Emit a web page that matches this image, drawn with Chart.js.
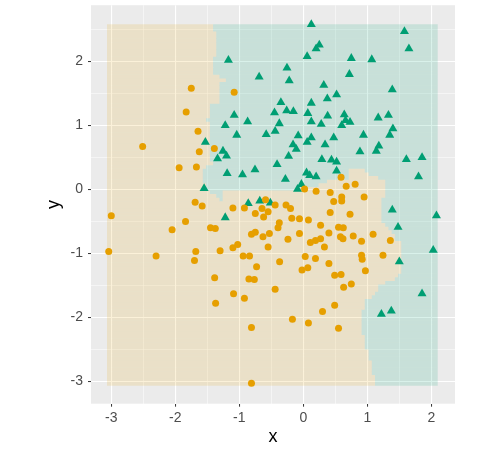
<!DOCTYPE html>
<html lang="en">
<head>
  <meta charset="UTF-8">
  <title>Decision regions</title>
  <script src="https://cdn.jsdelivr.net/npm/chart.js"></script>
  <style>
    body { margin: 0; background: #fff; }
    .chart-box { position: relative; width: 504px; height: 453px; }
  </style>
</head>
<body>
  <div class="chart-box"><canvas id="regionChart" width="504" height="453"></canvas></div>

  <script>
    // observed points, class A (orange circles)
    const orangeX = [
      -1.75, -1.83, -1.645, -1.08, -2.51, -1.625, -1.39, -1.94, -1.67, -1.69,
      -1.58, -3.0, -1.84, -2.05, -1.45, -3.04, -2.30, -1.68, -1.70, 0.02,
      0.20, 0.42, 0.475, -0.59, -0.44, -0.645, -0.55, -0.62, -1.10, -0.92,
      -0.75, -0.27, -0.20, -0.18, -0.06, 0.08, 0.27, 0.42, -1.375, -0.375,
      -0.395, -0.81, -0.75, -0.63, -0.53, -0.06, -0.24, 0.11, 0.19, 0.27,
      0.40, 0.33, -1.10, -1.025, -1.30, -0.55, -0.94, -0.84, -0.37, -0.73,
      0.03, 0.19, 0.40, 0.07, -0.02, 0.59, 0.67, 0.81, 0.95, 0.60,
      0.60, 0.73, 0.55, 0.625, 0.58, 0.62, 0.78, 1.09, 0.91, 1.36,
      0.91, 0.92, 1.245, 0.97, 0.49, 0.59, 0.63, 0.75, 0.49, 0.55,
      -1.385, -0.85, -0.765, -1.09, -0.92, -0.44, -1.37, 0.30, -0.17, 0.08,
      -0.81, -0.81
    ];
    const orangeY = [
      1.58, 1.21, 0.91, 1.52, 0.67, 0.59, 0.64, 0.34, 0.35, -0.20,
      -0.26, -0.41, -0.50, -0.63, -0.60, -0.97, -1.04, -0.97, -1.11, 0.005,
      -0.03, -0.05, -0.19, -0.16, -0.245, -0.30, -0.35, -0.43, -0.29, -0.29,
      -0.375, -0.245, -0.30, -0.45, -0.46, -0.48, -0.56, -0.36, -0.61, -0.52,
      -0.60, -0.70, -0.67, -0.74, -0.69, -0.69, -0.78, -0.83, -0.80, -0.77,
      -0.68, -0.90, -0.91, -0.86, -0.96, -0.90, -1.04, -1.04, -1.13, -1.21,
      -1.05, -1.08, -1.16, -1.225, -1.26, 0.19, 0.05, 0.08, -0.12, -0.12,
      -0.18, -0.39, -0.59, -0.60, -0.74, -0.77, -0.73, -0.70, -0.81, -0.80,
      -1.03, -1.09, -1.03, -1.27, -1.34, -1.33, -1.53, -1.48, -1.81, -2.17,
      -1.38, -1.40, -1.41, -1.63, -1.70, -1.56, -1.78, -1.91, -2.03, -2.09,
      -2.16, -3.03
    ];

    // observed points, class B (green triangles)
    const greenX = [
      0.125, 0.20, 0.25, 0.06, -1.17, -0.255, -0.69, -0.22, 0.32, -0.35,
      0.125, 0.375, 0.52, -0.45, -0.26, -0.155, 0.07, 0.38, -1.08, -1.22,
      -0.87, -0.375, 0.125, 0.28, -1.04, -0.58, -0.44, -0.08, 0.125, 0.475,
      1.58, 1.65, 0.75, 1.07, 0.72, 1.39, 0.64, 0.60, 0.66, 0.73,
      1.17, 1.33, 1.40, 1.35, 0.94, 0.885, 1.18, 1.14, 1.61, 1.855,
      0.52, 0.44, 0.29, 0.52, 1.80, 1.39, 2.08, 1.48, 2.03, 1.50,
      1.855, 1.22, 1.375, -1.53, -1.55, -1.255, -1.20, -1.34, -0.16, -0.11,
      0.06, -0.23, 0.34, -0.41, -0.755, -1.19, -0.95, 0.05, 0.10, 0.20,
      -0.28, -0.03, -0.09, -0.68, -0.86, -0.515, -1.22
    ];
    const greenY = [
      2.58, 2.20, 2.26, 2.08, 2.02, 1.90, 1.76, 1.70, 1.63, 1.36,
      1.35, 1.42, 1.48, 1.20, 1.23, 1.22, 1.19, 1.15, 1.16, 1.00,
      1.06, 1.03, 1.06, 1.02, 0.85, 0.86, 0.91, 0.84, 0.81, 0.81,
      2.47, 2.20, 2.05, 2.03, 1.80, 1.56, 1.17, 1.00, 1.08, 1.05,
      1.12, 1.16, 0.95, 0.85, 0.85, 0.59, 0.68, 0.60, 0.47, 0.50,
      0.43, 0.46, 0.47, 0.29, 0.20, -0.32, -0.41, -0.59, -0.95, -1.13,
      -1.63, -1.95, -1.90, 0.74, 0.015, 0.60, 0.525, 0.48, 0.70, 0.63,
      0.74, 0.52, 0.70, 0.39, 0.31, 0.25, 0.23, 0.26, 0.22, 0.20,
      0.16, 0.08, 0.005, -0.18, -0.22, -0.21, -0.44
    ];

    // prediction grid extent (100 x 100 cells)
    const gridLeft = -3.067;
    const gridRight = 2.1;
    const gridTop = 2.583;
    const gridBottom = -3.069;
    const gridRows = 100;

    // per grid row, top to bottom: x where the left class-A run ends
    const splitX = [
      -1.41, -1.41, -1.36, -1.36, -1.36, -1.36, -1.36, -1.36, -1.36, -1.41,
      -1.41, -1.41, -1.41, -1.41, -1.31, -1.21, -1.31, -1.31, -1.31, -1.31,
      -1.31, -1.31, -1.46, -1.46, -1.46, -1.46, -1.52, -1.46, -1.46, -1.46,
      -1.46, -1.46, -1.46, -1.46, -1.46, -1.46, -1.46, -1.46, -1.41, -1.52,
      -1.57, -1.57, -1.57, -1.57, -1.52, -1.52, -1.46, -1.36, -1.31, 1.22,
      1.22, 1.22, 1.22, 1.22, 1.22, 1.28, 1.33, 1.38, 1.43, 1.43,
      1.53, 1.53, 1.53, 1.53, 1.53, 1.53, 1.53, 1.53, 1.53, 1.48,
      1.43, 1.28, 1.17, 1.17, 1.12, 1.07, 0.96, 0.96, 0.96, 0.91,
      0.91, 0.91, 0.91, 0.91, 0.91, 0.91, 0.96, 0.96, 0.96, 0.96,
      1.02, 1.02, 1.02, 1.07, 1.07, 1.07, 1.07, 1.12, 1.12, 1.12
    ];

    // rows where a second class-A run sits inside the class-B area
    const blobRows = [40, 41, 42, 43, 44, 45, 46, 47, 48];
    const blobFrom = [0.71, 0.71, 0.71, 0.37, 0.24, -0.05, -1.26, -1.26, -1.26];
    const blobTo = [0.96, 1.02, 1.17, 1.28, 1.28, 1.28, 1.28, 1.28, 1.22];

    const xTicks = [-3, -2, -1, 0, 1, 2];
    const yTicks = [-3, -2, -1, 0, 1, 2];

    const ORANGE = '#E69F00';
    const GREEN = '#009E73';
    const ORANGE_TILE = 'rgba(230, 159, 0, 0.15)';
    const GREEN_TILE = 'rgba(0, 158, 115, 0.15)';

    const rowH = (gridTop - gridBottom) / gridRows;
    const rowY = k => gridTop - (k + 0.5) * rowH;

    const orangeTiles = [];
    const greenTiles = [];
    const blobTiles = [];
    const greenRightTiles = [];
    splitX.forEach((sx, k) => {
      orangeTiles.push({ x: [gridLeft, sx], y: rowY(k) });
      const b = blobRows.indexOf(k);
      if (b === -1) {
        greenTiles.push({ x: [sx, gridRight], y: rowY(k) });
      } else {
        greenTiles.push({ x: [sx, blobFrom[b]], y: rowY(k) });
        blobTiles.push({ x: [blobFrom[b], blobTo[b]], y: rowY(k) });
        greenRightTiles.push({ x: [blobTo[b], gridRight], y: rowY(k) });
      }
    });

    function tileSet(data, color) {
      return {
        type: 'bar',
        indexAxis: 'y',
        data,
        backgroundColor: color,
        borderWidth: 0,
        grouped: false,
        categoryPercentage: 1,
        barPercentage: 1,
        inflateAmount: 0
      };
    }

    const pts = (xs, ys) => xs.map((x, i) => ({ x, y: ys[i] }));

    const halfSteps = ticks => {
      const out = [];
      for (let i = 0; i < ticks.length; i++) {
        out.push(ticks[i]);
        if (i < ticks.length - 1) out.push((ticks[i] + ticks[i + 1]) / 2);
      }
      out.push(ticks[ticks.length - 1] + 0.5);
      return out;
    };

    const panelBg = {
      id: 'panelBg',
      beforeDraw(chart) {
        const { ctx, chartArea: a } = chart;
        ctx.save();
        ctx.fillStyle = '#EBEBEB';
        ctx.fillRect(a.left, a.top, a.right - a.left, a.bottom - a.top);
        ctx.restore();
      }
    };

    function axisOpts(ticks, min, max, title, isX) {
      const major = ctx => ctx.tick && Number.isInteger(ctx.tick.value);
      return {
        type: 'linear',
        min,
        max,
        offset: false,
        afterBuildTicks: scale => {
          scale.ticks = halfSteps(ticks)
            .filter(v => v >= min && v <= max)
            .map(v => ({ value: v }));
        },
        afterFit: scale => {
          if (isX) scale.height = 49.3;
          else scale.width = 91;
          // panel edges are set by layout padding alone
          scale.paddingTop = 0;
          scale.paddingBottom = 0;
          scale.paddingLeft = 0;
          scale.paddingRight = 0;
        },
        border: { display: false },
        grid: {
          offset: false,
          color: '#FFFFFF',
          lineWidth: ctx => (major(ctx) ? 1.1 : 0.5),
          tickColor: ctx => (major(ctx) ? '#333333' : 'rgba(0,0,0,0)'),
          tickLength: 3,
          tickWidth: 1
        },
        ticks: {
          color: '#4D4D4D',
          padding: isX ? 3 : 5,
          maxRotation: 0,
          autoSkip: false,
          font: { family: 'Liberation Sans, Arial, sans-serif', size: 14 },
          callback: v => (Number.isInteger(v) ? String(v) : '')
        },
        title: {
          display: true,
          text: title,
          color: '#000000',
          font: { family: 'Liberation Sans, Arial, sans-serif', size: 18 },
          padding: isX ? { top: 0, bottom: 5 } : { top: 43, bottom: 0 }
        }
      };
    }

    new Chart(document.getElementById('regionChart'), {
      type: 'scatter',
      data: {
        datasets: [
          {
            label: 'A',
            data: pts(orangeX, orangeY),
            pointStyle: 'circle',
            pointRadius: 3.5,
            backgroundColor: ORANGE,
            borderColor: ORANGE,
            borderWidth: 0
          },
          {
            label: 'B',
            data: pts(greenX, greenY),
            pointStyle: 'triangle',
            pointRadius: 5.2,
            backgroundColor: GREEN,
            borderColor: GREEN,
            borderWidth: 0
          },
          tileSet(orangeTiles, ORANGE_TILE),
          tileSet(blobTiles, ORANGE_TILE),
          tileSet(greenTiles, GREEN_TILE),
          tileSet(greenRightTiles, GREEN_TILE)
        ]
      },
      options: {
        responsive: false,
        animation: false,
        events: [],
        layout: { padding: { left: 0, top: 5, right: 49, bottom: 0 } },
        plugins: {
          legend: { display: false },
          tooltip: { enabled: false }
        },
        scales: {
          x: axisOpts(xTicks, -3.317, 2.37, 'x', true),
          y: axisOpts(yTicks, -3.35, 2.88, 'y', false)
        }
      },
      plugins: [panelBg]
    });
  </script>
</body>
</html>
